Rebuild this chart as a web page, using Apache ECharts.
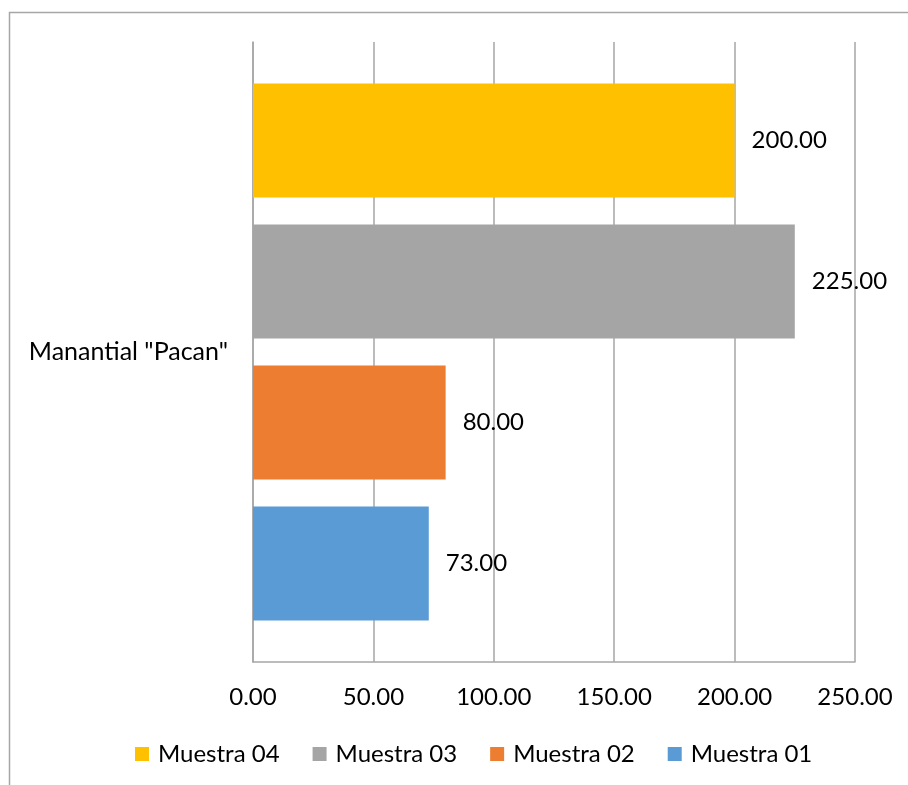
<!DOCTYPE html>
<html lang="es">
<head>
    <meta charset="UTF-8">
    <title>Manantial Pacan</title>
    <script src="https://cdn.jsdelivr.net/npm/echarts@6/dist/echarts.min.js"></script>
    <style type="text/css">
        html, body { margin: 0; padding: 0; background: #fff; }
        #main { width: 908px; height: 785px; }
    </style>
</head>
<body>
<div id="main"></div>
<script>
    // datos (de arriba hacia abajo en el grafico)
    var categorias = ['Manantial "Pacan"'];
    var muestras = ['Muestra 04', 'Muestra 03', 'Muestra 02', 'Muestra 01'];
    var valores = [[200], [225], [80], [73]];
    var colores = ['#FFC000', '#A5A5A5', '#ED7D31', '#5B9BD5'];

    var fuente = 'Lato, "Noto Sans", sans-serif';
    var myChart = echarts.init(document.getElementById('main'));

    var series = [];
    for (var i = 0; i < muestras.length; i++) {
        series.push({
            name: muestras[i],
            type: 'bar',
            data: valores[i],
            barWidth: 114,
            barGap: '23.7%',
            itemStyle: {color: colores[i]},
            label: {
                show: true,
                position: 'right',
                distance: 17,
                color: '#000',
                fontFamily: fuente,
                fontSize: 24,
                formatter: function (p) { return p.value.toFixed(2); }
            }
        });
    }

    var option = {
        animation: false,
        graphic: [{
            type: 'rect',
            shape: {x: 9.5, y: 12.5, width: 1000, height: 1000},
            style: {fill: 'none', stroke: '#a6a6a6', lineWidth: 1.5},
            silent: true
        }],
        grid: {left: 253, right: 53, top: 42, bottom: 123, containLabel: false},
        legend: {
            data: muestras,
            bottom: 14,
            left: 130,
            icon: 'rect',
            itemWidth: 14,
            itemHeight: 14,
            itemGap: 33,
            textStyle: {fontFamily: fuente, fontSize: 24, color: '#000', padding: [0, 0, 0, 4]}
        },
        xAxis: {
            type: 'value',
            min: 0,
            max: 250,
            interval: 50,
            axisLine: {show: true, lineStyle: {color: '#a6a6a6', width: 1.5}},
            axisTick: {show: false},
            splitLine: {show: true, lineStyle: {color: '#a6a6a6', width: 1.5}},
            axisLabel: {
                margin: 23,
                color: '#000',
                fontFamily: fuente,
                fontSize: 24,
                formatter: function (v) { return v.toFixed(2); }
            }
        },
        yAxis: {
            type: 'category',
            data: categorias,
            axisLine: {show: true, lineStyle: {color: '#a6a6a6', width: 1.5}},
            axisTick: {show: false},
            axisLabel: {margin: 25, color: '#000', fontFamily: fuente, fontSize: 25}
        },
        series: series
    };
    myChart.setOption(option);
</script>
</body>
</html>
